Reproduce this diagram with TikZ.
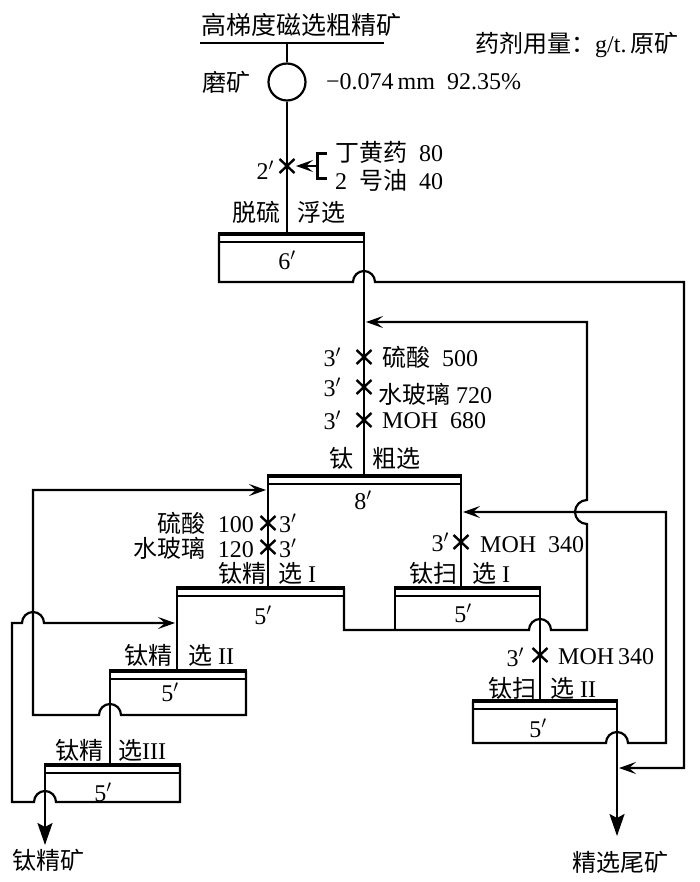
\documentclass[tikz,border=0pt]{standalone}
\usepackage{fontspec}
\setmainfont{Liberation Serif}
\newfontfamily\zhfont{Noto Sans CJK SC}
\usetikzlibrary{arrows.meta}
\newcommand{\zh}[1]{{\zhfont #1}}
\newcommand{\mn}{$'$}

\tikzset{
  flow/.style={line width=2.2pt},
  recycle/.style={flow, -{Stealth[length=17pt, width=12pt, inset=7pt]}},
  product/.style={flow, -{Stealth[length=22pt, width=15pt, inset=4pt]}},
  dose/.style={line width=2.4pt},
  lbl/.style={inner sep=0pt, font=\fontsize{24}{28}\selectfont},
}

\begin{document}
\begin{tikzpicture}[x=1pt, y=-1pt]
  \useasboundingbox (0,0) rectangle (700,882);
  % feed and grinding
  \node[lbl, anchor=west, font=\fontsize{25}{29}\selectfont] (feed) at (201,25) {\zh{高梯度磁选粗精矿}};
  \node[lbl, anchor=west] (unit) at (475,45) {\zh{药剂用量：}g/t.\,\zh{原矿}};
  \draw[flow] (200,43) -- (384,43);
  \node[circle, draw, flow, minimum size=37pt, inner sep=0pt] (mill) at (287,82) {};
  \draw[flow] (287,43) -- (mill.north);
  \draw[flow] (mill.south) -- (287,234);
  \node[lbl, anchor=east] (grind) at (251,82) {\zh{磨矿}};
  \node[lbl, anchor=west] (fineness) at (326,82) {−0.074\,mm\ \ 92.35\%};
  \node[lbl, anchor=east] (tA) at (274,170) {2\mn};
  \node[lbl, anchor=west] (rgA1) at (335,152) {\zh{丁黄药}\enspace 80};
  \node[lbl, anchor=west] (rgA2) at (335,180) {2\enspace\zh{号油}\enspace 40};
  \draw[line width=3pt] (327,154) -- (317,154) -- (317,179) -- (327,179);
  \draw[recycle] (317,166) -- (296,166);
  \node[lbl, anchor=east] (nA1) at (281,212) {\zh{脱硫}};
  \node[lbl, anchor=west] (nA2) at (297,212) {\zh{浮选}};

  % cell heads: froth lip and thin line
  \foreach \xl/\xr/\yt in {219/364/234, 268/461/476, 177/344/588, 395/540/588,
                           110/246/671, 473/617/701, 45/180/765} {
    \draw[line width=3.4pt] (\xl-1,\yt) -- (\xr+1,\yt);
    \draw[line width=1.4pt] (\xl,\yt+8) -- (\xr,\yt+8);
  }
  \node[lbl] (cA) at (287,260) {6\mn};
  \node[lbl] (cB) at (363,500) {8\mn};
  \node[lbl] (cC) at (263,615) {5\mn};
  \node[lbl] (cD) at (463,613) {5\mn};
  \node[lbl] (cE) at (170,692) {5\mn};
  \node[lbl] (cF) at (538,728) {5\mn};
  \node[lbl] (cG) at (103,792) {5\mn};

  % dosing points
  \foreach \x/\y in {287/166, 364/357, 364/387, 364/420, 268/523, 268/547, 461/542, 540/655}
    \draw[dose] (\x-7.5,\y-7) -- (\x+7.5,\y+7) (\x-7.5,\y+7) -- (\x+7.5,\y-7);

  % rougher
  \foreach \y/\n in {357/1, 387/2, 420/3}
    \node[lbl, anchor=east] (tB\n) at (341,\y) {3\mn};
  \node[lbl, anchor=west] (rgB1) at (382,357) {\zh{硫酸}\enspace 500};
  \node[lbl, anchor=west] (rgB2) at (378,394) {\zh{水玻璃} 720};
  \node[lbl, anchor=west] (rgB3) at (382,421) {MOH\ \ 680};
  \node[lbl, anchor=east] (nB1) at (354,458) {\zh{钛}};
  \node[lbl, anchor=west] (nB2) at (372,458) {\zh{粗选}};

  % cleaner I
  \node[lbl, anchor=east] (rgC1) at (254,523) {\zh{硫酸}\enspace 100};
  \node[lbl, anchor=east] (rgC2) at (254,548) {\zh{水玻璃}\enspace 120};
  \node[lbl, anchor=west] (tC1) at (279,523) {3\mn};
  \node[lbl, anchor=west] (tC2) at (279,548) {3\mn};
  \node[lbl, anchor=east] (nC1) at (267,573) {\zh{钛精}};
  \node[lbl, anchor=west] (nC2) at (278,573) {\zh{选} I};

  % scavenger I
  \node[lbl, anchor=east] (tD) at (449,542) {3\mn};
  \node[lbl, anchor=west] (rgD) at (480,545) {MOH\ \ 340};
  \node[lbl, anchor=east] (nD1) at (458,573) {\zh{钛扫}};
  \node[lbl, anchor=west] (nD2) at (472,573) {\zh{选} I};

  % cleaner II
  \node[lbl, anchor=east] (nE1) at (173,655) {\zh{钛精}};
  \node[lbl, anchor=west] (nE2) at (188,655) {\zh{选} II};

  % scavenger II
  \node[lbl, anchor=east] (tF) at (524,657) {3\mn};
  \node[lbl, anchor=west] (rgF) at (558,657) {MOH\,340};
  \node[lbl, anchor=east] (nF1) at (537,688) {\zh{钛扫}};
  \node[lbl, anchor=west] (nF2) at (550,688) {\zh{选} II};

  % cleaner III
  \node[lbl, anchor=east] (nG1) at (104,750) {\zh{钛精}};
  \node[lbl, anchor=west] (nG2) at (118,750) {\zh{选}III};

  % products
  \node[lbl, anchor=west] (conc) at (12,860) {\zh{钛精矿}};
  \node[lbl, anchor=west] (tail) at (572,862) {\zh{精选尾矿}};

  % main feeds between cells
  \draw[flow] (364,234) -- (364,476);
  \draw[flow] (268,476) -- (268,588);
  \draw[flow] (461,476) -- (461,588);
  \draw[flow] (177,588) -- (177,671);
  \draw[flow] (540,588) -- (540,701);
  \draw[flow] (110,671) -- (110,765);
  \draw[flow] (395,588) -- (395,630);
  \draw[product] (45,765) -- (45,845);
  \draw[product] (617,701) -- (617,836);

  % returns and side streams
  \draw[recycle] (219,234) -- (219,282) -- (353,282) arc[start angle=180, end angle=360, radius=11]
    -- (684,282) -- (684,768) -- (619,768);
  \draw[recycle] (344,588) -- (344,630) -- (529,630) arc[start angle=180, end angle=360, radius=11]
    -- (587,630) -- (587,524) arc[start angle=90, end angle=270, radius=12] -- (587,322) -- (366,322);
  \draw[recycle] (473,701) -- (473,743) -- (606,743) arc[start angle=180, end angle=360, radius=11]
    -- (666,743) -- (666,512) -- (463,512);
  \draw[recycle] (246,671) -- (246,715) -- (121,715) arc[start angle=0, end angle=-180, radius=11]
    -- (33,715) -- (33,490) -- (266,490);
  \draw[recycle] (180,765) -- (180,802) -- (56,802) arc[start angle=0, end angle=-180, radius=11]
    -- (12,802) -- (12,623) -- (22,623) arc[start angle=180, end angle=360, radius=11] -- (175,623);
\end{tikzpicture}
\end{document}
